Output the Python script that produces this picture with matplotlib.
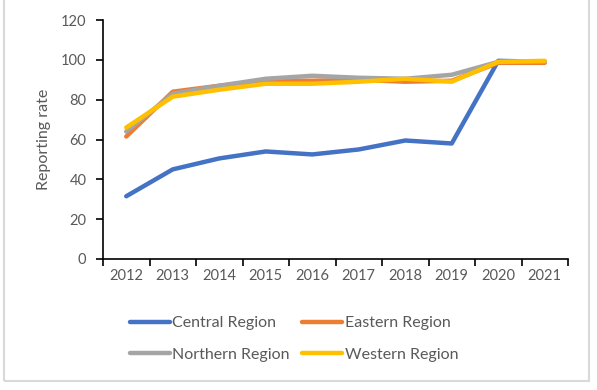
import numpy as np
import matplotlib.pyplot as plt
from matplotlib.patches import Rectangle

# Data: reporting rate by region
years = ["2012", "2013", "2014", "2015", "2016", "2017", "2018", "2019", "2020", "2021"]
central = [31.5, 45, 50.5, 54, 52.5, 55, 59.5, 58, 99.5, 99]
eastern = [61.5, 84, 87, 89.5, 89.5, 90, 89, 89.5, 98.5, 98.5]
northern = [64, 83, 87, 90.5, 92, 91, 90.5, 92.5, 99, 99]
western = [66, 81.5, 85, 88, 88, 89, 90.5, 89, 99, 99.5]

series = [("Central Region", central, "#4472C4"),
          ("Eastern Region", eastern, "#ED7D31"),
          ("Northern Region", northern, "#A5A5A5"),
          ("Western Region", western, "#FFC000")]

plt.rcParams['font.family'] = ['Lato', 'DejaVu Sans']
txt = "#595959"

fig = plt.figure(figsize=(5.97, 3.90), dpi=100)
ax = fig.add_axes([103 / 597, 1 - 259 / 390, 465 / 597, 239 / 390])

x = np.arange(len(years))
lines = []
for name, vals, col in series:
    ln, = ax.plot(x, vals, color=col, lw=3.2, label=name, solid_capstyle="round")
    lines.append(ln)

ax.set_ylim(0, 120)
ax.set_yticks(np.arange(0, 121, 20))
ax.set_xlim(-0.5, len(years) - 0.5)
ax.set_xticks(x)
ax.set_xticklabels(years)
ax.set_xticks(np.arange(-0.5, len(years)), minor=True)
ax.tick_params(axis="x", which="major", length=0, pad=7, labelsize=10.5, labelcolor=txt)
ax.tick_params(axis="x", which="minor", length=5, width=1.2, direction="out")
ax.tick_params(axis="y", length=5, width=1.2, direction="out", pad=7, labelsize=10.5, labelcolor=txt)
ax.spines["top"].set_visible(False)
ax.spines["right"].set_visible(False)
ax.spines["left"].set_linewidth(1.2)
ax.spines["bottom"].set_linewidth(1.2)
ax.set_ylabel("Reporting rate", fontsize=11.5, color=txt, labelpad=7)

# legend filled row by row: Central, Eastern / Northern, Western
order = [0, 2, 1, 3]
leg = fig.legend([lines[i] for i in order], [series[i][0] for i in order],
                 loc="center", bbox_to_anchor=(294 / 597, 1 - 339 / 390), ncol=2,
                 frameon=False, fontsize=11.5, handlelength=2.5, handletextpad=0.15,
                 columnspacing=0.8, labelspacing=1.1)
for t in leg.get_texts():
    t.set_color(txt)

fig.patches.append(Rectangle((4 / 597, 9 / 390), 585 / 597, 390 / 390, transform=fig.transFigure,
                             fill=False, edgecolor="#D9D9D9", lw=1.5))

fig.savefig("out.png", dpi=100)
